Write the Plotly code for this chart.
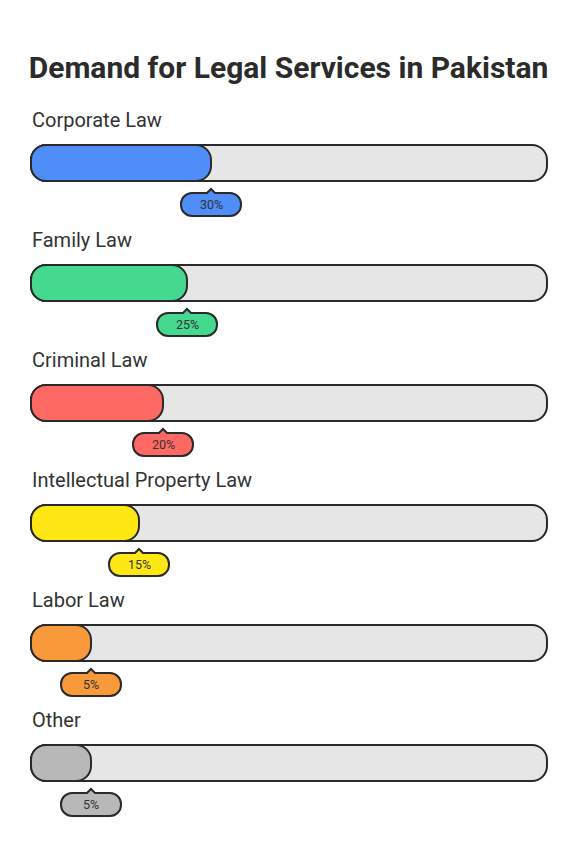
import plotly.graph_objects as go

# data
categories = ["Corporate Law", "Family Law", "Criminal Law",
              "Intellectual Property Law", "Labor Law", "Other"]
values = [30, 25, 20, 15, 5, 5]
colors = ["#4f8ef8", "#45d98f", "#ff6963", "#ffe714", "#f89a3a", "#b8b8b8"]
title = "Demand for Legal Services in Pakistan"

W, H = 576, 865
PAGE = 8        # page body margin around the plot div
PX_X = 4.8      # pixels per percent
PX_Y = 120      # pixels per row
CAP = 7.5       # rounded start cap, in percent units
BAR_H = 36
OUTLINE = "#2a2a2a"

x0 = -CAP - (31 - PAGE) / PX_X
x_range = [x0, x0 + W / PX_X]
top = 163 - PAGE
y_range = [(H - top) / PX_Y, -top / PX_Y]   # reversed, row 0 on top

K = 0.5523


def rounded_path(xa, xb, ya, yb, r_px, notch=None):
    """Rounded rectangle from xa..xb, ya..yb (ya above yb on screen)."""
    rx, ry = r_px / PX_X, r_px / PX_Y
    p = [f"M{xa + rx},{ya}"]
    if notch is not None:
        xc, w_px, h_px = notch
        nw, nh = w_px / 2 / PX_X, h_px / PX_Y
        p += [f"L{xc - nw},{ya}", f"L{xc},{ya - nh}", f"L{xc + nw},{ya}"]
    p += [f"L{xb - rx},{ya}",
          f"C{xb - rx + K * rx},{ya} {xb},{ya + ry - K * ry} {xb},{ya + ry}",
          f"L{xb},{yb - ry}",
          f"C{xb},{yb - ry + K * ry} {xb - rx + K * rx},{yb} {xb - rx},{yb}",
          f"L{xa + rx},{yb}",
          f"C{xa + rx - K * rx},{yb} {xa},{yb - ry + K * ry} {xa},{yb - ry}",
          f"L{xa},{ya + ry}",
          f"C{xa},{ya + ry - K * ry} {xa + rx - K * rx},{ya} {xa + rx},{ya}",
          "Z"]
    return " ".join(p)


fig = go.Figure()
shapes = []
annotations = []
half = BAR_H / 2 / PX_Y

for i, (cat, val, col) in enumerate(zip(categories, values, colors)):
    # track
    shapes.append(dict(type="path", xref="x", yref="y",
                       path=rounded_path(-CAP, 100, i - half, i + half, 15),
                       fillcolor="#e6e6e6", line=dict(color=OUTLINE, width=2)))
    # fill
    shapes.append(dict(type="path", xref="x", yref="y",
                       path=rounded_path(-CAP, val, i - half, i + half, 15),
                       fillcolor=col, line=dict(color=OUTLINE, width=2)))
    # value bubble
    bw = 30 / PX_X
    shapes.append(dict(type="path", xref="x", yref="y",
                       path=rounded_path(val - bw, val + bw, i + 30 / PX_Y, i + 53 / PX_Y, 11,
                                         notch=(val, 8, 4)),
                       fillcolor=col, line=dict(color=OUTLINE, width=2)))
    annotations.append(dict(x=val, y=i + 41.5 / PX_Y, xref="x", yref="y",
                            text=f"{val}%", showarrow=False,
                            font=dict(family="Roboto", size=12.5, color="#333333"),
                            xanchor="center", yanchor="middle"))
    # category label
    annotations.append(dict(x=-CAP - 1 / PX_X, y=i - 43 / PX_Y, xref="x", yref="y",
                            text=cat, showarrow=False,
                            font=dict(family="Roboto", size=20, color="#333333"),
                            xanchor="left", yanchor="middle"))

# invisible trace to anchor the axes
fig.add_trace(go.Scatter(x=values, y=list(range(len(values))), mode="markers",
                         marker=dict(opacity=0), hoverinfo="skip", showlegend=False))

fig.update_layout(
    width=W, height=H,
    margin=dict(l=0, r=0, t=0, b=0),
    paper_bgcolor="white", plot_bgcolor="white",
    title=dict(text=f"<b>{title}</b>", x=(288.5 - PAGE) / W, xanchor="center",
               y=1 - (67 - PAGE) / H, yanchor="middle", yref="container",
               font=dict(family="Roboto", size=30, color="#2b2b2b")),
    xaxis=dict(range=x_range, visible=False, fixedrange=True),
    yaxis=dict(range=y_range, visible=False, fixedrange=True),
    shapes=shapes,
    annotations=annotations,
    showlegend=False,
)

fig.write_html("out.html")
